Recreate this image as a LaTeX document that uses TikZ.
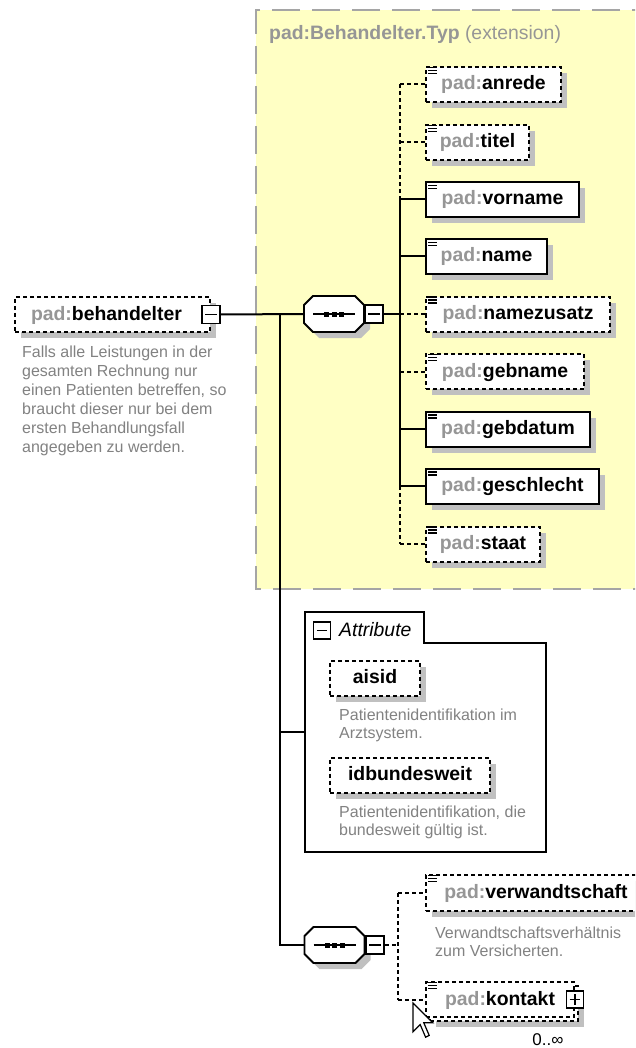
\documentclass[tikz,border=0pt]{standalone}
\usepackage{fontspec}
\setmainfont{Liberation Sans}
\usetikzlibrary{shadows}
\definecolor{yel}{RGB}{255,255,196}
\definecolor{shgray}{RGB}{192,192,192}
\definecolor{pfxgray}{RGB}{150,150,150}
\definecolor{descgray}{RGB}{130,130,130}
\definecolor{boxgray}{RGB}{165,165,165}
\newcommand{\pfx}[1]{\textbf{\textcolor{pfxgray}{pad:}#1}}
\newcommand{\seqcomp}[1]{%
 \begin{scope}[shift={(#1.center)}]
  \fill[shgray] (-15,-12) -- (27,-12) -- (36,-3) -- (36,15) -- (27,24) -- (-15,24) -- (-24,15) -- (-24,-3) -- cycle;
  \filldraw[fill=white, line width=1.8pt] (-21,-18) -- (21,-18) -- (30,-9) -- (30,9) -- (21,18) -- (-21,18) -- (-30,9) -- (-30,-9) -- cycle;
  \draw[line width=1.8pt] (-21,0) -- (21,0);
  \foreach \q in {-7.5,0,7.5} \fill (\q-2.5,-2.5) rectangle (\q+2.5,2.5);
 \end{scope}}
\newcommand{\pmminus}[1]{\draw[line width=1.5pt] ([xshift=4pt]#1.west) -- ([xshift=-4pt]#1.east);}
\newcommand{\pmplus}[1]{\pmminus{#1}\draw[line width=1.5pt] ([yshift=4pt]#1.south) -- ([yshift=-4pt]#1.north);}
\newcommand{\elicon}[1]{\foreach \q in {1.5,4.5,7.5} \draw[line width=1.1pt] ([shift={(3,\q)}]#1.north west) -- ++(9,0);}
\tikzset{
 elbase/.style={draw, line width=2pt, fill=white, anchor=west, minimum height=35pt, inner sep=0pt,
   text height=15pt, text depth=4pt, font=\fontsize{19.4}{23}\selectfont},
 el/.style={elbase, general shadow={fill=shgray, shadow xshift=6pt, shadow yshift=-6pt}},
 dsh/.style={dash pattern=on 4pt off 3pt},
 opt/.style={el, dsh},
 conn/.style={line width=2pt},
 desc/.style={anchor=north west, inner sep=0pt, align=left, text=descgray, font=\fontsize{16}{17.5}\selectfont},
 pm/.style={draw, fill=white, line width=1.7pt, minimum size=18pt, inner sep=0pt},
}
\begin{document}
\begin{tikzpicture}[x=1pt,y=-1pt]
\clip (0,0) rectangle (635,1048);
\fill[white] (0,0) rectangle (635,1048);
% extension container
\fill[yel] (256,10) rectangle (660,589);
\draw[boxgray, line width=2pt, dash pattern=on 28pt off 12pt] (660,10) -- (256,10) -- (256,589) -- (660,589);
\node[anchor=base west, inner sep=0pt, text=pfxgray, font=\fontsize{19.4}{23}\selectfont] (exttitle) at (269,40) {\textbf{pad:Behandelter.Typ} (extension)};

% root element
\node[opt, minimum width=195pt, text width=163pt, inner xsep=16pt, align=left] (beh) at (14,314.5) {\pfx{behandelter}};
\node[pm] (behm) at (beh.east) {};
\pmminus{behm}
\node[desc, font=\fontsize{16}{19}\selectfont] (behdesc) at (22,346) {Falls alle Leistungen in der\\gesamten Rechnung nur\\einen Patienten betreffen, so\\braucht dieser nur bei dem\\ersten Behandlungsfall\\angegeben zu werden.};

% sequence 1
\node[minimum width=60pt, minimum height=36pt, inner sep=0pt] (seq1) at (334,314) {};
\seqcomp{seq1}
\node[pm, anchor=west] (seq1m) at (seq1.east) {};
\pmminus{seq1m}

% child elements
\node[opt, minimum width=135pt] (anrede) at (425,84.5) {\pfx{anrede}};
\node[opt, minimum width=103pt] (titel) at (425,142.5) {\pfx{titel}};
\node[el, minimum width=153pt] (vorname) at (425,199.5) {\pfx{vorname}};
\node[el, minimum width=121pt] (name) at (425,256.5) {\pfx{name}};
\node[opt, minimum width=184pt] (namezusatz) at (425,314) {\pfx{namezusatz}};
\node[opt, minimum width=158pt] (gebname) at (425,371.5) {\pfx{gebname}};
\node[el, minimum width=164pt] (gebdatum) at (425,429) {\pfx{gebdatum}};
\node[el, minimum width=173pt] (geschlecht) at (425,486) {\pfx{geschlecht}};
\node[opt, minimum width=114pt] (staat) at (425,544) {\pfx{staat}};
\foreach \n in {anrede,titel,vorname,name,namezusatz,gebname,gebdatum,geschlecht,staat} {\elicon{\n}}

% bus of sequence 1
\coordinate (busx) at (400,0);
\draw[conn,dsh] (anrede.west -| busx) -- (vorname.west -| busx);
\draw[conn] (vorname.west -| busx) -- (geschlecht.west -| busx);
\draw[conn,dsh] (geschlecht.west -| busx) -- (staat.west -| busx);
\foreach \n in {anrede,titel,namezusatz,gebname,staat} {\draw[conn,dsh] (\n.west -| busx) -- (\n.west);}
\foreach \n in {vorname,name,gebdatum,geschlecht} {\draw[conn] (\n.west -| busx) -- (\n.west);}
\draw[conn] (seq1m.east) -- (namezusatz.west -| busx);

% attributes
\node[minimum width=241pt, minimum height=240pt, inner sep=0pt] (attr) at (425.5,732) {};
\draw[line width=1.7pt, fill=white] (attr.north west) -- ([xshift=119pt]attr.north west) -- ([shift={(119,31)}]attr.north west) -- ([yshift=-31pt]attr.north east) -- (attr.south east) -- (attr.south west) -- cycle;
\node[pm, minimum size=17pt, line width=1.4pt] (attrm) at (322,630.5) {};
\pmminus{attrm}
\node[anchor=base west, inner sep=0pt, font=\fontsize{19.4}{23}\itshape\selectfont] (attrt) at (339,636) {Attribute};
\node[opt, minimum width=90pt] (aisid) at (329,678) {\textbf{aisid}};
\node[desc] (aisiddesc) at (339,709) {Patientenidentifikation im\\Arztsystem.};
\node[opt, minimum width=160pt] (idbw) at (329,775) {\textbf{idbundesweit}};
\node[desc] (idbwdesc) at (339,806) {Patientenidentifikation, die\\bundesweit gültig ist.};

% sequence 2
\node[minimum width=61pt, minimum height=36pt, inner sep=0pt] (seq2) at (334.5,945) {};
\seqcomp{seq2}
\node[pm, anchor=west] (seq2m) at (seq2.east) {};
\pmminus{seq2m}

\node[opt, minimum width=220pt, minimum height=36pt] (verw) at (425,893) {\pfx{verwandtschaft}};
\node[desc] (verwdesc) at (435,927) {Verwandtschaftsverhältnis\\zum Versicherten.};
\node[opt, minimum width=148pt] (kontaktb) at (429,1003.5) {};
\node[elbase, dsh, minimum width=148pt] (kontakt) at (425,999.5) {\pfx{kontakt}};
\node[pm, minimum size=17pt] (kontaktp) at (kontakt.east) {};
\pmplus{kontaktp}
\elicon{verw}
\elicon{kontakt}
\node[anchor=base, inner sep=0pt, font=\fontsize{17}{18}\selectfont] (card) at (548,1045) {0..∞};

% spine
\coordinate (j1) at (280,314);
\draw[conn] (behm.east) -- (seq1.west);
\draw[conn] (j1) |- (seq2.west);
\draw[conn] (j1 |- attr.west) -- (attr.west);

% bus of sequence 2
\coordinate (busy) at (398,0);
\draw[conn,dsh] (seq2m.east) -- (seq2m.east -| busy);
\draw[conn,dsh] (verw.west -| busy) -- (kontakt.west -| busy);
\draw[conn,dsh] (verw.west -| busy) -- (verw.west);
\draw[conn,dsh] (kontakt.west -| busy) -- (kontakt.west);

% mouse pointer
\filldraw[fill=white, draw=black, line width=1.2pt, line join=miter] (413,1003) -- (413,1031.8) -- (420.2,1024.6) -- (425.6,1037.2) -- (429.2,1035.4) -- (423.8,1022.8) -- (432.8,1022.8) -- cycle;
\end{tikzpicture}
\end{document}
